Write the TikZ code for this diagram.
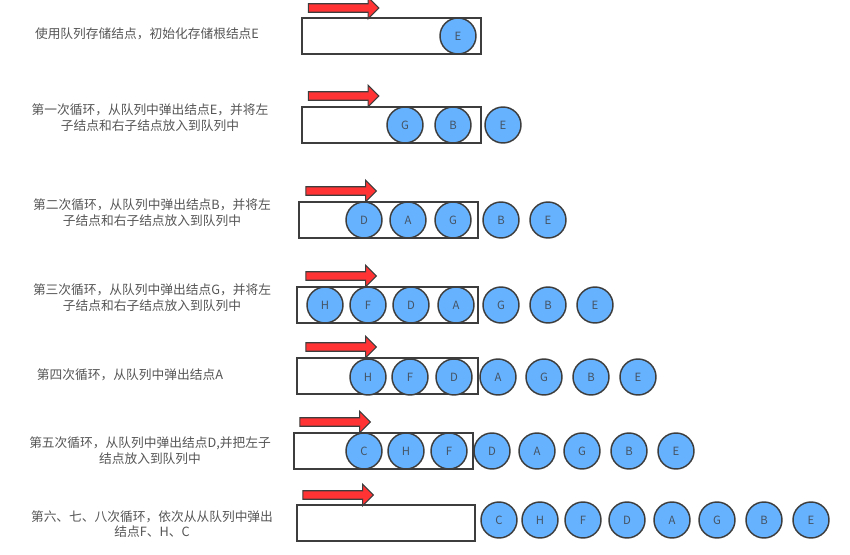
\documentclass[tikz,border=0pt]{standalone}
\usepackage{fontspec}
\setmainfont{Noto Sans CJK SC}
\usetikzlibrary{shapes.arrows}
\definecolor{qblue}{HTML}{66B2FF}
\definecolor{qline}{HTML}{3D3D3D}
\definecolor{qred}{HTML}{FF3333}
\definecolor{qtext}{HTML}{555555}
\tikzset{
    qnode/.style={circle, draw=qline, fill=qblue, line width=1.1pt, minimum size=27pt,
        inner sep=0pt, text=qline!80!qblue, font=\fontsize{8.5}{10}\selectfont},
    qbox/.style={draw=qline, line width=1.1pt, inner sep=0pt},
    qarrow/.style={single arrow, draw=qline, fill=qred, line width=.8pt, inner xsep=0pt, inner ysep=2.8pt,
        minimum height=53pt, single arrow head extend=5pt, single arrow tip angle=90},
    qlabel/.style={align=center, text=qtext, font=\fontsize{9.55}{11.8}\selectfont}
}
\begin{document}
\begin{tikzpicture}[x=.75pt, y=-.75pt]
    \useasboundingbox (0, 0) rectangle (850, 555);
    \foreach \r/\xl/\xr/\yt/\xa/\ya in {1/302/481/18/341.5/8, 2/302/481/107/341.5/96,
        3/299/478/202/339/191, 4/297/478/287/339/276, 5/297/478/358/339/347,
        6/294/473/433/333/422, 7/297/475/505/336/495} {
        \coordinate (a\r) at (\xl, \yt);
        \coordinate (b\r) at (\xr, \yt + 36);
        \draw[qbox] (a\r) rectangle (b\r);
        \node[qarrow] (arrow\r) at (\xa, \ya) {};
    }
    \foreach \x/\t in {458/E}
        \node[qnode] (n1\t) at (\x, 36) {\t};
    \foreach \x/\t in {405/G, 453/B, 503/E}
        \node[qnode] (n2\t) at (\x, 125) {\t};
    \foreach \x/\t in {364/D, 408/A, 453/G, 501/B, 548/E}
        \node[qnode] (n3\t) at (\x, 220) {\t};
    \foreach \x/\t in {325/H, 368/F, 411/D, 456/A, 501/G, 548/B, 595/E}
        \node[qnode] (n4\t) at (\x, 305) {\t};
    \foreach \x/\t in {368/H, 410/F, 454/D, 498/A, 544/G, 591/B, 638/E}
        \node[qnode] (n5\t) at (\x, 377) {\t};
    \foreach \x/\t in {364/C, 406/H, 449/F, 492/D, 537/A, 582/G, 629/B, 676/E}
        \node[qnode] (n6\t) at (\x, 451) {\t};
    \foreach \x/\t in {499/C, 540/H, 583/F, 627/D, 672/A, 717/G, 764/B, 811/E}
        \node[qnode] (n7\t) at (\x, 520) {\t};
    \node[qlabel] (label1) at (147, 34) {使用队列存储结点，初始化存储根结点E};
    \node[qlabel] (label2) at (150, 118) {第一次循环，从队列中弹出结点E，并将左\\子结点和右子结点放入到队列中};
    \node[qlabel] (label3) at (152, 213) {第二次循环，从队列中弹出结点B，并将左\\子结点和右子结点放入到队列中};
    \node[qlabel] (label4) at (152, 298) {第三次循环，从队列中弹出结点G，并将左\\子结点和右子结点放入到队列中};
    \node[qlabel] (label5) at (130, 375) {第四次循环，从队列中弹出结点A};
    \node[qlabel] (label6) at (150, 451) {第五次循环，从队列中弹出结点D,并把左子\\结点放入到队列中};
    \node[qlabel] (label7) at (152, 524) {第六、七、八次循环，依次从从队列中弹出\\结点F、H、C};
\end{tikzpicture}
\end{document}
